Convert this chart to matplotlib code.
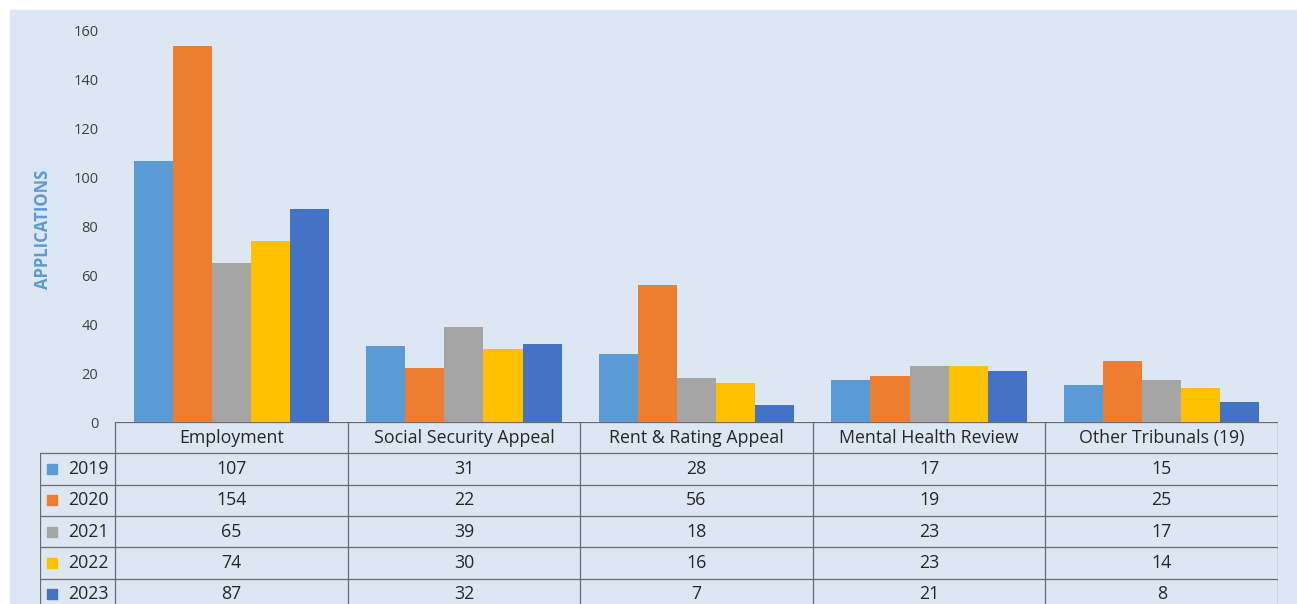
import matplotlib.pyplot as plt
import numpy as np
from matplotlib.patches import Rectangle

categories = ["Employment", "Social Security Appeal", "Rent & Rating Appeal",
              "Mental Health Review", "Other Tribunals (19)"]
years = ["2019", "2020", "2021", "2022", "2023"]
values = [
    [107, 31, 28, 17, 15],
    [154, 22, 56, 19, 25],
    [65, 39, 18, 23, 17],
    [74, 30, 16, 23, 14],
    [87, 32, 7, 21, 8],
]
colors = ["#5b9bd5", "#ed7d31", "#a5a5a5", "#ffc000", "#4472c4"]

plt.rcParams['font.family'] = ['Open Sans', 'DejaVu Sans']
bg = "#dde7f3"
W, H = 1297, 604

fig = plt.figure(figsize=(W / 100, H / 100), dpi=100)
fig.patches.append(Rectangle((10 / W, 0), 1 - 10 / W, 1 - 10 / H,
                             transform=fig.transFigure, color=bg, zorder=-10))

# main bar axes
x0, x1, ytop, ybot = 115, 1278, 31, 422
ax = fig.add_axes([x0 / W, 1 - ybot / H, (x1 - x0) / W, (ybot - ytop) / H])
ax.set_facecolor("none")
x = np.arange(len(categories))
bw = 0.168
for i in range(len(years)):
    ax.bar(x + (i - 2) * bw, values[i], bw, color=colors[i], zorder=2)
ax.set_xlim(-0.5, 4.5)
ax.set_ylim(0, 160)
ax.set_yticks(np.arange(0, 161, 20))
ax.set_xticks([])
ax.tick_params(axis="y", length=0, labelsize=10.5, colors="#404040", pad=12)
for s in ax.spines.values():
    s.set_visible(False)
fig.text(43 / W, 1 - 229 / H, "APPLICATIONS", rotation=90, ha="center", va="center",
         fontsize=12, fontweight="bold", color="#5b9bd5")

# data table under the bars
unit = (x1 - x0) / 5.0
lx = 40
tab = fig.add_axes([lx / W, 0, (x1 - lx) / W, (H - ybot) / H])
tab.set_facecolor("none")
tab.axis("off")
left = -0.5 - (x0 - lx) / unit
tab.set_xlim(left, 4.5)
rowh = 31.3
tab.set_ylim((H - ybot) / rowh, 0)
lc = "#6b6b6b"
lw = 0.9
tab.plot([-0.5, 4.5], [0, 0], color=lc, lw=lw)
for r in range(1, 6):
    tab.plot([left, 4.5], [r, r], color=lc, lw=lw)
tab.plot([left, left], [1, 6], color=lc, lw=lw)
for c in range(6):
    tab.plot([c - 0.5, c - 0.5], [0, 6], color=lc, lw=lw)

fs = 12.8
for j, cat in enumerate(categories):
    tab.text(j, 0.5, cat, ha="center", va="center", fontsize=fs, color="#262626")
sq = 10 / unit
for i, yr in enumerate(years):
    tab.add_patch(Rectangle((left + 7 / unit, i + 1.5 - 0.16), sq, 0.32, color=colors[i]))
    tab.text(-0.5 - 6 / unit, i + 1.5, yr, ha="right", va="center", fontsize=fs, color="#262626")
    for j in range(len(categories)):
        tab.text(j, i + 1.5, str(values[i][j]), ha="center", va="center",
                 fontsize=fs, color="#262626")

fig.savefig("out.png", dpi=100, facecolor="white")
